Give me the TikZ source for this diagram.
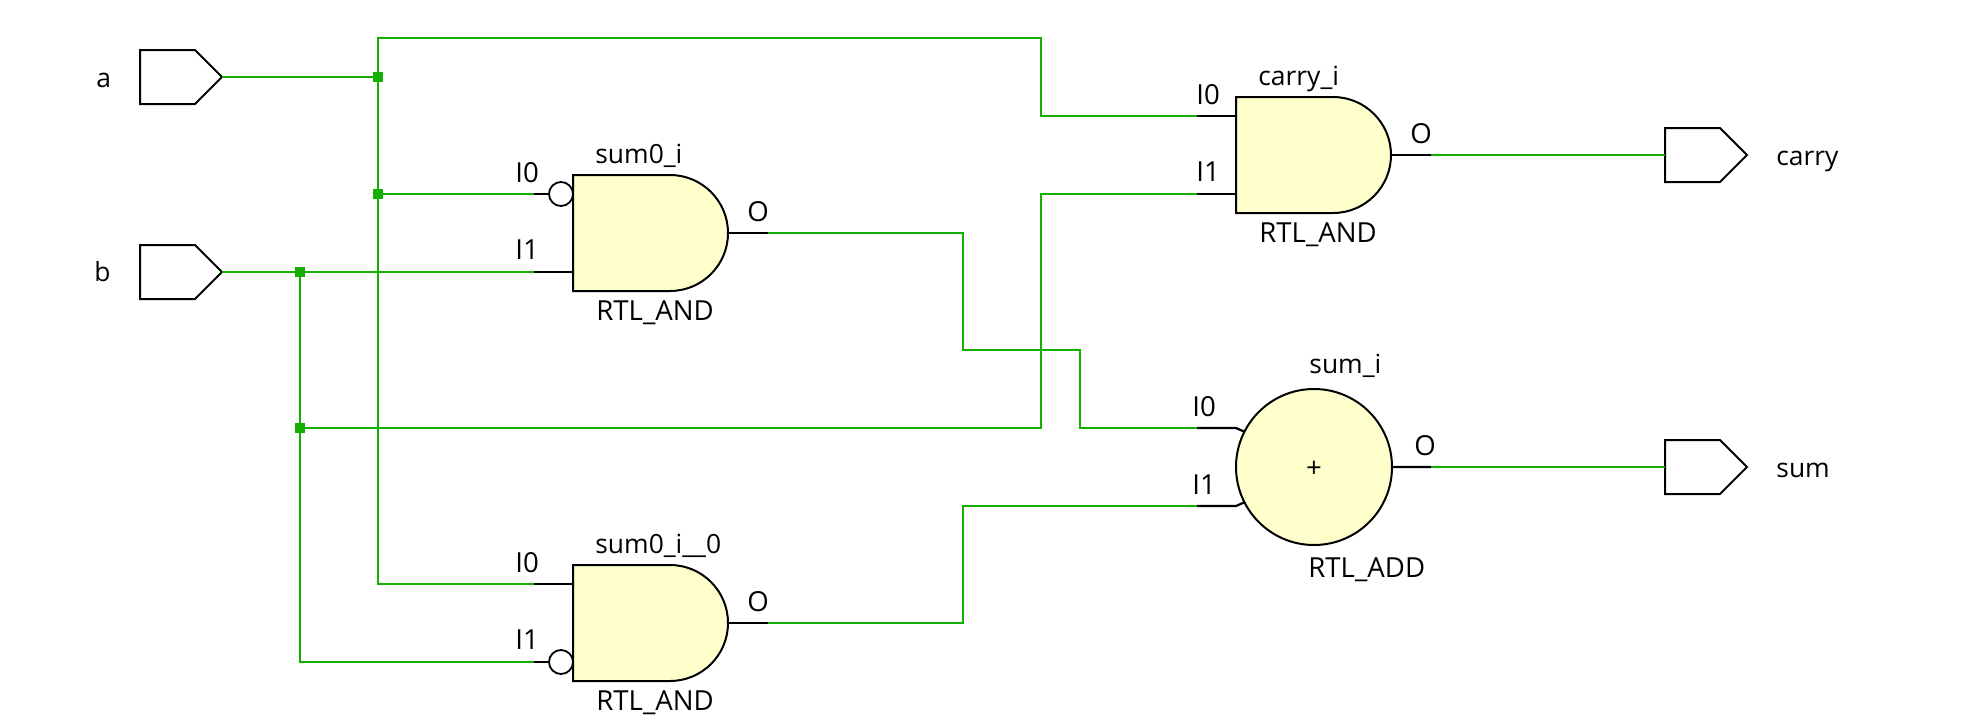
\documentclass[tikz,border=0pt]{standalone}
\usepackage{fontspec}
\setmainfont{Open Sans}
\definecolor{netgreen}{RGB}{20,175,0}
\definecolor{cellfill}{RGB}{255,255,204}
\tikzset{
	wire/.style={netgreen, line width=1.2pt},
	pin/.style={black, line width=1.1pt},
	cell/.style={draw=black, fill=cellfill, line width=1pt},
	junc/.style={fill=netgreen, inner sep=0pt, minimum size=5pt},
	bubble/.style={circle, draw=black, fill=white, line width=0.9pt, inner sep=0pt, minimum size=12pt},
	lbl/.style={anchor=base west, inner sep=0pt, font=\fontsize{13.8}{15}\selectfont},
	namelbl/.style={lbl, font=\fontsize{13.2}{15}\selectfont},
	pinlblx/.store in=\pinlblx, pinlblx=-58,
	portshape/.pic={
		\draw[black, line width=1pt, line join=miter] (0,0) -- (55,0) -- (82,27) -- (55,54) -- (0,54) -- cycle;
		\coordinate (-in) at (0,27);
		\coordinate (-tip) at (82,27);
	},
	andgate/.pic={
		\draw[pin] (-39,19) -- (0,19) (-39,97) -- (0,97) (155,58) -- (195,58);
		\draw[cell] (0,0) -- (97,0) arc (-90:90:58) -- (0,116) -- cycle;
		\node[namelbl] (-nm) at (22,-12) {\tikzpictext};
		\node[lbl] (-ty) at (23,145) {RTL\_AND};
		\node[lbl] (-a) at (\pinlblx,7) {I0};
		\node[lbl] (-b) at (\pinlblx,84) {I1};
		\node[lbl] (-c) at (174,46) {O};
		\coordinate (-i0) at (-39,19);
		\coordinate (-i1) at (-39,97);
		\coordinate (-o) at (195,58);
	},
}
\begin{document}
\begin{tikzpicture}[x=0.5pt, y=-0.5pt]
	\useasboundingbox (0,0) rectangle (1972,723);
	% ports
	\pic (pa) at (140,50) {portshape};
	\pic (pb) at (140,245) {portshape};
	\pic (pcarry) at (1665,128) {portshape};
	\pic (psum) at (1665,440) {portshape};
	\node[namelbl] (la) at (96,87) {a};
	\node[namelbl] (lb) at (94,281) {b};
	\node[namelbl] (lcarry) at (1776,165) {carry};
	\node[namelbl] (lsum) at (1776,477) {sum};
	% cells
	\pic[pic text={sum0\_i}] (gs) at (573,175) {andgate};
	\pic[pic text={sum0\_i\_\_0}] (gz) at (573,565) {andgate};
	\pic[pic text={carry\_i}, pinlblx=-40] (gc) at (1236,97) {andgate};
	\node[bubble] (bs) at (561,194) {};
	\node[bubble] (bz) at (561,662) {};
	\coordinate (ai0) at (1197,428);
	\coordinate (ai1) at (1197,506);
	\coordinate (ao) at (1431,467);
	\draw[pin] (ai0) -- (1236,428) -- (1245,432) (ai1) -- (1236,506) -- (1245,502) (1392,467) -- (ao);
	\node[circle, cell, inner sep=0pt, minimum size=78pt] (add) at (1314,467) {};
	\node[lbl, anchor=center] (addp) at (1314,469) {+};
	\node[lbl] (adda) at (1192,416) {I0};
	\node[lbl] (addb) at (1192,494) {I1};
	\node[lbl] (addc) at (1414,455) {O};
	\node[namelbl] (addn) at (1309,373) {sum\_i};
	\node[lbl] (addt) at (1308,577) {RTL\_ADD};
	% nets
	\node[junc] (ja) at (378,77) {};
	\node[junc] (jc) at (378,194) {};
	\node[junc] (jb) at (300,272) {};
	\node[junc] (jd) at (300,428) {};
	\coordinate (ctop) at (1041,38);
	\coordinate (cup) at (1041,194);
	\coordinate (cm) at (963,350);
	\coordinate (cn) at (1080,428);
	\coordinate (cl) at (963,506);
	\draw[wire] (pa-tip) -- (ja);
	\draw[wire] (ja.center) |- (ctop) |- (gc-i0);
	\draw[wire] (ja.center) |- (gz-i0);
	\draw[wire] (jc) -- (gs-i0);
	\draw[wire] (pb-tip) -- (gs-i1);
	\draw[wire] (jb.center) |- (gz-i1);
	\draw[wire] (jd) -| (cup) -- (gc-i1);
	\draw[wire] (gs-o) -| (cm) -| (cn) -- (ai0);
	\draw[wire] (gz-o) -| (cl) -- (ai1);
	\draw[wire] (gc-o) -- (pcarry-in);
	\draw[wire] (ao) -- (psum-in);
\end{tikzpicture}
\end{document}
